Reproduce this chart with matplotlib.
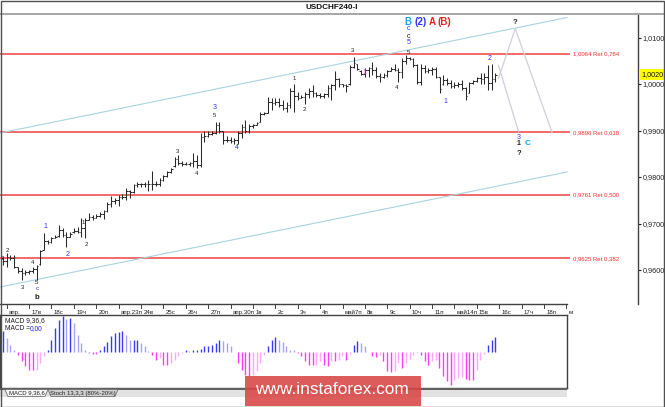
import numpy as np
import matplotlib
matplotlib.use('Agg')
import matplotlib.pyplot as plt
import matplotlib.transforms as mtransforms
from matplotlib.patches import Rectangle, Polygon

plt.rcParams['font.family'] = ['Liberation Sans', 'DejaVu Sans']

# H4 bars USDCHF, one value per bar (index 0 = 13 apr 20:00)
HIGH = [0.9629, 0.9636, 0.9632, 0.9632, 0.9607, 0.9604, 0.9600, 0.9600, 0.9607, 0.9611,
        0.9643, 0.9679, 0.9665, 0.9672, 0.9675, 0.9697, 0.9690, 0.9682, 0.9682, 0.9690,
        0.9693, 0.9711, 0.9711, 0.9722, 0.9718, 0.9720, 0.9725, 0.9730, 0.9747, 0.9759,
        0.9754, 0.9761, 0.9763, 0.9776, 0.9773, 0.9785, 0.9790, 0.9788, 0.9790, 0.9794,
        0.9812, 0.9791, 0.9797, 0.9804, 0.9813, 0.9820, 0.9844, 0.9847, 0.9834, 0.9833,
        0.9833, 0.9851, 0.9847, 0.9894, 0.9898, 0.9898, 0.9898, 0.9919, 0.9919, 0.9898,
        0.9888, 0.9885, 0.9883, 0.9898, 0.9914, 0.9923, 0.9915, 0.9915, 0.9919, 0.9940,
        0.9940, 0.9971, 0.9969, 0.9969, 0.9969, 0.9966, 0.9962, 0.9991, 0.9999, 0.9983,
        0.9976, 0.9983, 0.9991, 0.9998, 0.9983, 0.9980, 0.9980, 0.9998, 1.0001, 1.0027,
        1.0012, 1.0001, 1.0001, 1.0041, 1.0059, 1.0044, 1.0030, 1.0034, 1.0037, 1.0048,
        1.0037, 1.0023, 1.0023, 1.0030, 1.0037, 1.0044, 1.0034, 1.0055, 1.0062, 1.0059,
        1.0055, 1.0044, 1.0044, 1.0041, 1.0034, 1.0037, 1.0037, 1.0016, 1.0019, 1.0012,
        1.0009, 1.0005, 1.0005, 1.0009, 0.9994, 1.0005, 1.0009, 1.0016, 1.0023, 1.0023,
        1.0041, 1.0044, 1.0023]
LOW = [0.9611, 0.9607, 0.9622, 0.9604, 0.9593, 0.9579, 0.9589, 0.9591, 0.9594, 0.9579,
       0.9611, 0.9643, 0.9656, 0.9657, 0.9668, 0.9672, 0.9672, 0.9650, 0.9670, 0.9680,
       0.9679, 0.9672, 0.9668, 0.9708, 0.9708, 0.9711, 0.9715, 0.9709, 0.9725, 0.9736,
       0.9743, 0.9738, 0.9753, 0.9751, 0.9754, 0.9766, 0.9778, 0.9778, 0.9778, 0.9769,
       0.9771, 0.9781, 0.9781, 0.9792, 0.9799, 0.9809, 0.9822, 0.9826, 0.9824, 0.9825,
       0.9824, 0.9822, 0.9819, 0.9822, 0.9876, 0.9885, 0.9890, 0.9893, 0.9894, 0.9872,
       0.9876, 0.9874, 0.9872, 0.9872, 0.9883, 0.9894, 0.9894, 0.9905, 0.9912, 0.9918,
       0.9933, 0.9937, 0.9944, 0.9955, 0.9951, 0.9944, 0.9940, 0.9948, 0.9940, 0.9966,
       0.9969, 0.9958, 0.9969, 0.9973, 0.9973, 0.9969, 0.9969, 0.9973, 0.9966, 0.9987,
       0.9994, 0.9994, 0.9983, 0.9998, 1.0034, 1.0030, 1.0019, 1.0016, 1.0016, 1.0019,
       1.0012, 1.0005, 1.0012, 1.0016, 1.0027, 1.0027, 1.0005, 1.0012, 1.0044, 1.0052,
       1.0037, 1.0001, 0.9998, 1.0023, 1.0023, 1.0019, 1.0012, 0.9980, 0.9998, 0.9998,
       0.9991, 0.9991, 0.9994, 0.9987, 0.9966, 0.9980, 1.0001, 1.0005, 1.0001, 1.0001,
       0.9987, 0.9987, 1.0005]
OPEN = [0.9625, 0.9620, 0.9628, 0.9625, 0.9606, 0.9597, 0.9593, 0.9595, 0.9597, 0.9603,
        0.9612, 0.9644, 0.9662, 0.9660, 0.9668, 0.9673, 0.9685, 0.9676, 0.9672, 0.9681,
        0.9684, 0.9682, 0.9690, 0.9708, 0.9714, 0.9712, 0.9716, 0.9720, 0.9726, 0.9742,
        0.9748, 0.9750, 0.9758, 0.9756, 0.9770, 0.9768, 0.9782, 0.9784, 0.9784, 0.9786,
        0.9785, 0.9784, 0.9786, 0.9794, 0.9802, 0.9810, 0.9823, 0.9838, 0.9830, 0.9829,
        0.9828, 0.9830, 0.9835, 0.9825, 0.9885, 0.9888, 0.9892, 0.9895, 0.9912, 0.9898,
        0.9880, 0.9880, 0.9878, 0.9880, 0.9895, 0.9908, 0.9900, 0.9910, 0.9912, 0.9919,
        0.9936, 0.9938, 0.9962, 0.9960, 0.9962, 0.9955, 0.9948, 0.9955, 0.9985, 0.9975,
        0.9970, 0.9972, 0.9978, 0.9985, 0.9980, 0.9976, 0.9975, 0.9978, 0.9992, 0.9998,
        1.0010, 1.0000, 0.9998, 0.9999, 1.0036, 1.0043, 1.0029, 1.0022, 1.0030, 1.0035,
        1.0030, 1.0018, 1.0015, 1.0020, 1.0028, 1.0032, 1.0030, 1.0025, 1.0050, 1.0055,
        1.0054, 1.0040, 1.0005, 1.0035, 1.0028, 1.0030, 1.0032, 1.0015, 0.9999, 1.0008,
        1.0002, 0.9995, 0.9998, 1.0000, 0.9992, 0.9981, 1.0002, 1.0006, 1.0012, 1.0010,
        1.0015, 1.0002, 1.0010]
CLOSE = [0.9620, 0.9628, 0.9625, 0.9606, 0.9597, 0.9593, 0.9595, 0.9597, 0.9603, 0.9609,
         0.9640, 0.9662, 0.9660, 0.9668, 0.9670, 0.9685, 0.9676, 0.9672, 0.9678, 0.9684,
         0.9682, 0.9690, 0.9708, 0.9714, 0.9712, 0.9716, 0.9720, 0.9726, 0.9742, 0.9748,
         0.9750, 0.9758, 0.9756, 0.9770, 0.9768, 0.9782, 0.9784, 0.9784, 0.9786, 0.9785,
         0.9784, 0.9786, 0.9794, 0.9802, 0.9810, 0.9818, 0.9838, 0.9830, 0.9829, 0.9828,
         0.9830, 0.9835, 0.9825, 0.9885, 0.9888, 0.9892, 0.9895, 0.9912, 0.9898, 0.9880,
         0.9880, 0.9878, 0.9880, 0.9895, 0.9908, 0.9900, 0.9910, 0.9912, 0.9916, 0.9936,
         0.9938, 0.9962, 0.9960, 0.9962, 0.9955, 0.9948, 0.9955, 0.9985, 0.9975, 0.9970,
         0.9972, 0.9978, 0.9985, 0.9980, 0.9976, 0.9975, 0.9978, 0.9992, 0.9998, 1.0010,
         1.0000, 0.9998, 0.9996, 1.0036, 1.0045, 1.0032, 1.0022, 1.0030, 1.0035, 1.0030,
         1.0018, 1.0015, 1.0020, 1.0028, 1.0032, 1.0030, 1.0025, 1.0050, 1.0055, 1.0054,
         1.0040, 1.0005, 1.0035, 1.0028, 1.0030, 1.0032, 1.0015, 0.9990, 1.0008, 1.0002,
         0.9995, 0.9998, 1.0000, 0.9992, 0.9975, 1.0002, 1.0006, 1.0012, 1.0010, 1.0015,
         1.0002, 1.0010, 1.0020]

# MACD 9,36,6 histogram (units of 0.00001)
MACD = [62, 42, 22, 7, -8, -28, -43, -53, -55, -53,
        -33, -13, 7, 37, 72, 95, 107, 100, 102, 87,
        52, 27, 7, -3, -6, -6, 7, 17, 30, 47,
        57, 60, 64, 50, 37, 37, 37, 27, 17, 2,
        -8, -23, -18, -38, -38, -33, -23, -13, -3, 7,
        4, 7, 7, 9, 17, 17, 20, 27, 35, 34,
        27, 17, 1, -33, -53, -68, -73, -68, -58, -33,
        -8, 17, 37, 44, 37, 30, 17, 7, 5, -3,
        -13, -28, -40, -40, -38, -28, -38, -43, -28, -28,
        -23, -13, -23, -5, 22, 32, 27, 19, 1, -13,
        -15, -8, -28, -58, -61, -58, -33, -48, -33, -21,
        -8, -2, -8, -28, -38, -28, -23, -48, -71, -88,
        -98, -83, -78, -75, -80, -83, -85, -53, -23, -5,
        20, 37, 45]

DAY_LABELS = ['апр.', '17в', '18с', '19ч', '20п', 'апр.23п', '24в', '25с', '26ч', '27п',
              'апр.30п', '1в', '2с', '3ч', '4п', 'май7п', '8в', '9с', '10ч', '11п',
              'май14п', '15в', '16с', '17ч', '18п', 'м']
BARS_PER_DAY = 6

LEVELS = [1.0064, 0.9896, 0.9761, 0.9625]
LEVEL_TEXT = ['1,0064 Ret 0,764', '0,9896 Ret 0,618', '0,9761 Ret 0,500', '0,9625 Ret 0,382']
PRICE_TICKS = [0.9600, 0.9700, 0.9800, 0.9900, 1.0000, 1.0100]

CHANNEL_UP = ([-0.8, 151.2], [0.98946, 1.0143])
CHANNEL_DN = ([-0.8, 151.2], [0.95634, 0.98108])
PATH_1 = ([132.8, 137.3, 147.2], [1.0012, 1.0119, 0.9895])
PATH_2 = ([132.8, 138.2], [1.0040, 0.9897])

BLUE = '#3030ff'
BLK = '#202020'
CYAN = '#20a0e0'
RED = '#e8202a'
MAG = '#ff30ff'
# wave labels: bar index, price, text, colour, size, bold
WAVES = [
    (-0.1, 0.96237, '2', BLK, 4.3, False), (1.1, 0.96430, '2', BLK, 4.3, False),
    (5.1, 0.95613, '3', BLK, 4.3, False), (8.0, 0.96151, '4', BLK, 4.3, False),
    (9.1, 0.95730, '5', BLK, 4.3, False), (9.1, 0.95605, 'c', BLUE, 4.6, False),
    (9.1, 0.95419, 'b', BLK, 5.5, True), (11.3, 0.96925, '1', BLUE, 5, False),
    (17.2, 0.96344, '2', BLUE, 5, False), (21.4, 0.97032, '1', BLK, 4.3, False),
    (22.3, 0.96538, '2', BLK, 4.3, False), (46.9, 0.98559, '3', BLK, 4.3, False),
    (52.0, 0.98086, '4', BLK, 4.3, False), (56.8, 0.99505, '3', BLUE, 5, False),
    (56.8, 0.99333, '5', BLK, 4.3, False), (62.7, 0.98645, '4', BLUE, 5, False),
    (78.0, 1.00129, '1', BLK, 4.3, False), (80.7, 0.99462, '2', BLK, 4.3, False),
    (93.6, 1.00710, '3', BLK, 4.3, False), (96.8, 1.00237, '1', MAG, 5, False),
    (105.6, 0.99935, '4', BLK, 4.3, False), (108.6, 1.00667, '5', BLK, 4.3, False),
    (108.6, 1.00882, '5', BLUE, 5, False), (108.6, 1.01032, 'c', BLK, 5, False),
    (108.6, 1.01183, 'c', BLUE, 5, False), (108.6, 1.01333, 'B', CYAN, 7, True),
    (111.9, 1.01333, '(2)', BLUE, 7, True), (115.0, 1.01333, 'A', RED, 7, True),
    (118.3, 1.01333, '(B)', RED, 7, True), (118.5, 0.99634, '1', BLUE, 5, False),
    (130.3, 1.00538, '2', BLUE, 5, False), (137.3, 1.01333, '?', BLK, 5.5, True),
    (138.3, 0.98860, '3', BLUE, 5, False), (138.3, 0.98710, '1', BLK, 5, True),
    (140.6, 0.98710, 'C', CYAN, 6, True), (138.3, 0.98516, '?', BLK, 5.5, True),
]

W, H = 665, 407


def box(x0, y0, x1, y1):
    return [x0 / W, 1 - y1 / H, (x1 - x0) / W, (y1 - y0) / H]


def price_at(y):
    return 1.0100 - (y - 37.5) / 4650


fig = plt.figure(figsize=(W / 100, H / 100), dpi=100)
fig.patch.set_facecolor('white')

# ---- price panel ----
ax = fig.add_axes(box(0, 15, 638, 304))
ax.set_xlim(-0.8, 170.2)
ax.set_ylim(price_at(304), price_at(15))
for s in ['top', 'left', 'bottom']:
    ax.spines[s].set_visible(False)
ax.spines['right'].set_color('#404040')
ax.spines['right'].set_linewidth(1.0)
ax.yaxis.tick_right()
ax.set_yticks(PRICE_TICKS)
ax.set_yticklabels([('%.4f' % v).replace('.', ',') for v in PRICE_TICKS])
ax.tick_params(axis='y', direction='out', length=2.5, width=0.8, pad=1,
               labelsize=5.2, colors='#202020')
ax.set_xticks([])

x_end = 151.2
for lv, txt in zip(LEVELS, LEVEL_TEXT):
    ax.plot([-0.8, 152.0], [lv, lv], color='#f05050', lw=1.2, solid_capstyle='butt')
    ax.text(152.8, lv, txt, color='#ff2a2a', fontsize=4.3, va='center', ha='left')

ax.plot(*CHANNEL_UP, color='#a9d3e0', lw=0.8)
ax.plot(*CHANNEL_DN, color='#a9d3e0', lw=0.8)
ax.plot(*PATH_1, color='#cfcfdc', lw=0.9)
ax.plot(*PATH_2, color='#cfcfdc', lw=0.9)

xi = np.arange(len(HIGH))
ax.vlines(xi, LOW, HIGH, color='#2a2a2a', lw=0.75)
ax.hlines(OPEN, xi - 0.45, xi, color='#2a2a2a', lw=0.75)
ax.hlines(CLOSE, xi, xi + 0.45, color='#2a2a2a', lw=0.75)

for x, y, t, c, sz, b in WAVES:
    ax.text(x, y, t, color=c, fontsize=sz, ha='center', va='center',
            fontweight='bold' if b else 'normal')

# current price tag
ax.text(171.0, CLOSE[-1], ('%.4f' % CLOSE[-1]).replace('.', ','), fontsize=5.2,
        ha='left', va='center', color='#101010', clip_on=False,
        bbox=dict(boxstyle='square,pad=0.25', fc='#ffff00', ec='none'))

# time axis
trans = mtransforms.blended_transform_factory(ax.transData, ax.transAxes)
ax.plot([-0.8, x_end], [0, 0], transform=trans, color='#404040', lw=1.0, clip_on=False)
for k, lab in enumerate(DAY_LABELS):
    xt = 1 + k * BARS_PER_DAY
    ax.plot([xt, xt], [0, -0.013], transform=trans, color='#404040', lw=0.7, clip_on=False)
    ax.text(xt + 0.6, -0.022, lab, transform=trans, fontsize=4.4, ha='left', va='top',
            color='#202020', clip_on=False)

# ---- MACD panel ----
am = fig.add_axes(box(0, 315, 567, 388))
am.set_xlim(-0.8, 151.2)
am.set_ylim(-108, 111)
am.set_xticks([])
am.set_yticks([])
for s in am.spines.values():
    s.set_color('#404040')
    s.set_linewidth(1.0)
cols = []
for i, v in enumerate(MACD):
    prev = MACD[i - 1] if i > 0 else v
    if v >= 0:
        cols.append('#3a3aff' if v >= prev else '#a4a4ff')
    else:
        cols.append('#ff3cff' if v <= prev else '#ffa6ff')
am.vlines(np.arange(len(MACD)), 0, MACD, colors=cols, lw=1.0)

fig.text(5 / W, 1 - 320.5 / H, 'MACD 9,36,6', fontsize=4.8, va='center', color='#202020')
fig.text(5 / W, 1 - 328.5 / H, 'MACD =', fontsize=4.8, va='center', color='#202020')
fig.text(30 / W, 1 - 328.5 / H, '0,00', fontsize=4.8, va='center', color='#2020ff')

# ---- frame, title, tabs ----
fig.patches.append(Rectangle((0, 1 - 15 / H), 1, 2 / H, transform=fig.transFigure,
                             fc='#a8a8a8', ec='none'))
fig.text(332 / W, 1 - 7.5 / H, 'USDCHF240-I', fontsize=5.9, fontweight='bold',
         ha='center', va='center', color='#101010')
fig.patches.append(Rectangle((0, 1 - 397 / H), 567 / W, 9 / H, transform=fig.transFigure,
                             fc='#e2e2e2', ec='none'))
fig.patches.append(Rectangle((0, 1 - 389.5 / H), 567 / W, 1.5 / H, transform=fig.transFigure,
                             fc='#606060', ec='none'))
tab1 = [(5, 389.5), (8, 396.5), (45, 396.5), (48, 389.5)]
tab2 = [(48, 389.5), (51, 396.5), (115, 396.5), (118, 389.5)]
for pts, fc in [(tab2, '#d0d0d0'), (tab1, '#f8f8f8')]:
    fig.patches.append(Polygon([(px / W, 1 - py / H) for px, py in pts], closed=True,
                               transform=fig.transFigure, fc=fc, ec='#707070', lw=0.6))
fig.text(26.5 / W, 1 - 393 / H, 'MACD 9,36,6', fontsize=4.3, ha='center', va='center',
         color='#202020')
fig.text(83 / W, 1 - 393 / H, 'Stoch 13,3,3 (80%-20%)', fontsize=4.3, ha='center',
         va='center', color='#202020')

fig.patches.append(Rectangle((245 / W, 1 - 406 / H), 176 / W, 30 / H, transform=fig.transFigure,
                             fc='#d84545', ec='none', alpha=0.88))
fig.text(332 / W, 1 - 390 / H, 'www.instaforex.com', fontsize=12.4, color='white',
         ha='center', va='center')

fig.patches.append(Rectangle((0.5 / W, 0.5 / H), 1 - 1.5 / W, 1 - 1.5 / H,
                             transform=fig.transFigure, fill=False, ec='#505050', lw=1.0))

fig.savefig('out.png', dpi=100)
